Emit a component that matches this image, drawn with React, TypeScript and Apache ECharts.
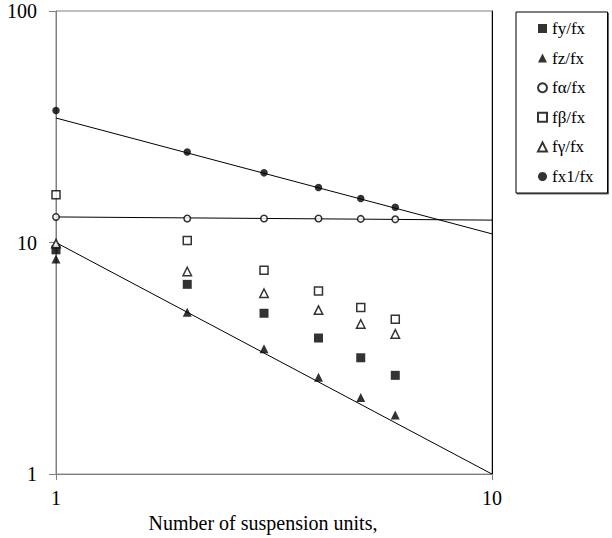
import React, { useEffect, useRef } from "react";
import * as echarts from "echarts";

const units = [1, 2, 3, 4, 5, 6];
const fyFx = [9.3, 6.6, 4.95, 3.87, 3.18, 2.67];
const fzFx = [8.5, 5.0, 3.48, 2.62, 2.14, 1.8];
const fAlphaFx = [12.9, 12.7, 12.7, 12.7, 12.65, 12.6];
const fBetaFx = [16.1, 10.2, 7.6, 6.17, 5.24, 4.66];
const fGammaFx = [9.9, 7.5, 6.04, 5.11, 4.45, 4.03];
const fx1Fx = [37.2, 24.6, 20.0, 17.3, 15.5, 14.2];

const trendX = [1, 10];
const fzTrend = [10, 1];
const fx1Trend = [34.5, 10.9];
const fAlphaTrend = [12.9, 12.5];

const FONT = "'Liberation Serif', 'Times New Roman', serif";

const pair = (xs: number[], ys: number[]) => xs.map((x, i) => [x, ys[i]]);

export default function App() {
  const ref = useRef<HTMLDivElement>(null);
  useEffect(() => {
    if (!ref.current) return;
    const chart = echarts.init(ref.current, null, { renderer: "svg" });
    const filled = (name: string, symbol: string, data: number[], size: number) => ({
      name,
      type: "scatter",
      symbol,
      symbolSize: size,
      data: pair(units, data),
      itemStyle: { color: "#000" },
      z: 5,
    });
    const open = (name: string, symbol: string, data: number[], size: number) => ({
      name,
      type: "scatter",
      symbol,
      symbolSize: size,
      data: pair(units, data),
      itemStyle: { color: "#fff", borderColor: "#000", borderWidth: 1.5 },
      z: 5,
    });
    const trend = (data: number[]) => ({
      type: "line",
      data: pair(trendX, data),
      showSymbol: false,
      symbol: "none",
      lineStyle: { color: "#000", width: 1 },
      silent: true,
      z: 3,
    });
    chart.setOption({
      animation: false,
      backgroundColor: "#fff",
      textStyle: { fontFamily: FONT, color: "#000" },
      grid: {
        left: 56,
        right: 120,
        top: 11,
        bottom: 62,
        show: true,
        borderColor: "#808080",
        borderWidth: 1,
      },
      legend: {
        orient: "vertical",
        left: 516,
        top: 12,
        padding: [8, 14, 8, 21],
        itemGap: 12.6,
        itemWidth: 9,
        itemHeight: 9,
        borderColor: "#000",
        borderWidth: 1,
        backgroundColor: "#fff",
        shadowColor: "rgba(0,0,0,0.6)",
        shadowOffsetX: 1,
        shadowOffsetY: 1,
        shadowBlur: 0,
        textStyle: { fontFamily: FONT, fontSize: 17, color: "#000" },
        data: ["fy/fx", "fz/fx", "fα/fx", "fβ/fx", "fγ/fx", "fx1/fx"],
      },
      xAxis: [
        {
          type: "log",
          logBase: 10,
          min: 1,
          max: 10,
          name: "Number of suspension units,",
          nameLocation: "middle",
          nameGap: 34,
          nameTextStyle: {
            fontFamily: FONT,
            fontSize: 20,
            color: "#000",
            padding: [0, 22, 0, 0],
          },
          axisLine: { lineStyle: { color: "#808080", width: 1 } },
          axisTick: { show: true, length: 6, lineStyle: { color: "#808080" } },
          axisLabel: { fontFamily: FONT, fontSize: 20, color: "#000", margin: 14 },
          splitLine: { show: false },
          minorTick: { show: false },
        },
      ],
      yAxis: [
        {
          type: "log",
          logBase: 10,
          min: 1,
          max: 100,
          axisLine: { show: true, lineStyle: { color: "#808080", width: 1 } },
          axisTick: { show: true, length: 7, lineStyle: { color: "#808080" } },
          axisLabel: { fontFamily: FONT, fontSize: 20, color: "#000", margin: 19 },
          splitLine: { show: false },
        },
        {
          type: "log",
          logBase: 10,
          min: 1,
          max: 100,
          position: "right",
          axisLine: { show: true, lineStyle: { color: "#000", width: 1 } },
          axisTick: { show: false },
          axisLabel: { show: false },
          splitLine: { show: false },
        },
      ],
      series: [
        filled("fy/fx", "rect", fyFx, 9),
        filled("fz/fx", "triangle", fzFx, 9),
        open("fα/fx", "circle", fAlphaFx, 6.5),
        open("fβ/fx", "rect", fBetaFx, 8),
        open("fγ/fx", "triangle", fGammaFx, 8.5),
        filled("fx1/fx", "circle", fx1Fx, 7.5),
        trend(fzTrend),
        trend(fx1Trend),
        trend(fAlphaTrend),
      ],
    });
    return () => chart.dispose();
  }, []);
  return (
    <div
      ref={ref}
      style={{ position: "absolute", left: 0, top: 0, width: 612, height: 538 }}
    />
  );
}
